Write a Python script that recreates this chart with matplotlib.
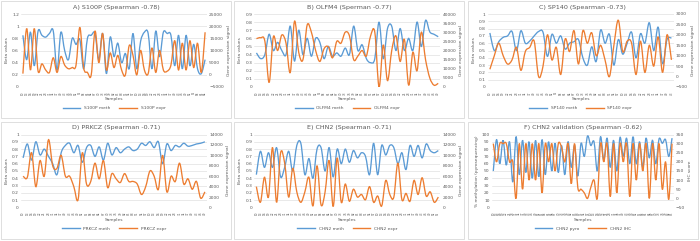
import numpy as np
import matplotlib
matplotlib.use('Agg')
import matplotlib.pyplot as plt
from matplotlib.path import Path
from matplotlib.patches import PathPatch, Rectangle
from matplotlib.lines import Line2D

BLUE = '#5B9BD5'
ORANGE = '#ED7D31'

# ---- data ----
titles = ['A) S100P (Spearman -0.78)', 'B) OLFM4 (Sperman -0.77)', 'C) SP140 (Spearman -0.73)',
          'D) PRKCZ (Spearman -0.71)', 'E) CHN2 (Spearman -0.71)', 'F) CHN2 validation (Spearman -0.62)']
legend_names = [('S100P meth', 'S100P expr'), ('OLFM4 meth', 'OLFM4 expr'), ('SP140 meth', 'SP140 expr'),
                ('PRKCZ meth', 'PRKCZ expr'), ('CHN2 meth', 'CHN2 expr'), ('CHN2 pyro', 'CHN2 IHC')]

s100p_meth = [0.85, 0.45, 0.9, 0.35, 0.92, 0.85, 0.82, 0.88, 0.92, 0.28, 0.9, 0.6, 0.45, 0.8, 0.7, 0.78,
              0.3, 0.8, 0.85, 0.88, 0.45, 0.88, 0.22, 0.82, 0.5, 0.72, 0.4, 0.55, 0.3, 0.88, 0.3, 0.75,
              0.9, 0.88, 0.3, 0.92, 0.5, 0.9, 0.88, 0.85, 0.35, 0.85, 0.3, 0.85, 0.35, 0.7, 0.3, 0.22, 0.45]
s100p_expr = [500, 19000, 2000, 19000, 1500, 4500, 2000, 1000, 7000, 1000, 7500, 4000, 2500, 3000, 4000,
              19500, 3000, 1000, 0, 18000, 5000, 17000, 2000, 9000, 3000, 8000, 2000, 0, 12000, 8000, 0,
              10000, 2000, 500, 11000, 1000, 10000, 2000, 1500, 4000, 14000, 2000, 13000, 2000, 14000,
              3000, 13000, 1000, 17500]

olfm4_meth = [0.42, 0.35, 0.4, 0.65, 0.45, 0.55, 0.45, 0.4, 0.75, 0.32, 0.7, 0.4, 0.6, 0.38, 0.6, 0.55,
              0.35, 0.5, 0.38, 0.42, 0.38, 0.48, 0.4, 0.75, 0.45, 0.52, 0.35, 0.3, 0.35, 0.8, 0.35, 0.72,
              0.75, 0.45, 0.72, 0.45, 0.6, 0.45, 0.8, 0.5, 0.82, 0.68, 0.65, 0.62]
olfm4_expr = [26500, 27000, 25000, 2500, 27500, 20000, 28500, 24000, 8000, 36000, 19000, 15000, 34000,
              30000, 20000, 14000, 21000, 22000, 16000, 25000, 24000, 30000, 28000, 15000, 17000, 20000,
              17000, 28000, 30000, 0, 23000, 3500, 20000, 28000, 14000, 26000, 1000, 19000, 9000, 30000,
              15000, 5000, 1000, 2000]

sp140_meth = [0.74, 0.5, 0.62, 0.68, 0.7, 0.76, 0.5, 0.77, 0.6, 0.63, 0.7, 0.76, 0.75, 0.42, 0.72, 0.6,
              0.7, 0.52, 0.6, 0.62, 0.65, 0.4, 0.3, 0.55, 0.35, 0.78, 0.6, 0.72, 0.3, 0.65, 0.45, 0.6,
              0.75, 0.4, 0.73, 0.6, 0.88, 0.5, 0.82, 0.32, 0.65, 0.67]
sp140_expr = [350, 1000, 1600, 1000, 600, 800, 1400, 300, 1200, 1400, 1700, 0, 500, 2000, 800, 1400,
              100, 1800, 1200, 2200, 600, 2200, 1600, 2100, 1000, 1500, 800, 0, 1500, 2700, 1200,
              1700, 1600, 100, 1700, 200, 1500, 500, 1900, 200, 2000, 800]

prkcz_meth = [0.68, 0.87, 0.65, 0.9, 0.72, 0.8, 0.7, 0.6, 0.45, 0.75, 0.85, 0.88, 0.75, 0.85, 0.62, 0.82,
              0.85, 0.7, 0.83, 0.65, 0.88, 0.72, 0.82, 0.75, 0.8, 0.83, 0.78, 0.8, 0.88, 0.85, 0.9, 0.82,
              0.9, 0.6, 0.87, 0.78, 0.85, 0.83, 0.88, 0.84, 0.85, 0.87, 0.88, 0.9]
prkcz_expr = [6000, 5800, 10500, 4000, 9000, 6000, 13000, 8000, 7500, 10000, 6000, 6000, 4000, 1500,
              10500, 4500, 5000, 8500, 5500, 9000, 3800, 6500, 5500, 4800, 6500, 5000, 5000, 4500, 2500,
              4000, 7000, 6000, 3500, 10000, 3000, 6000, 5000, 8500, 4500, 5500, 3500, 5000, 1800, 3000]

chn2_meth = [0.45, 0.77, 0.55, 0.75, 0.55, 0.82, 0.42, 0.55, 0.77, 0.5, 0.85, 0.88, 0.45, 0.67, 0.4,
             0.8, 0.82, 0.5, 0.82, 0.42, 0.8, 0.6, 0.8, 0.62, 0.78, 0.68, 0.75, 0.7, 0.45, 0.88, 0.45,
             0.85, 0.72, 0.85, 0.82, 0.6, 0.75, 0.52, 0.85, 0.7, 0.85, 0.68, 0.87, 0.78, 0.75, 0.78]
chn2_expr = [4000, 1000, 5800, 2000, 11500, 1000, 10500, 8500, 2000, 7500, 3000, 1000, 3000, 5800, 300,
             8000, 500, 3000, 9000, 200, 9500, 1000, 4500, 1200, 3500, 2000, 2500, 1500, 4000, 1000,
             2200, 300, 5200, 2500, 2000, 8500, 1500, 2700, 1200, 5200, 2500, 5700, 2200, 3000, 1000, 2000]

chn2_pyro = [50, 93, 60, 92, 58, 90, 35, 97, 45, 92, 48, 90, 40, 92, 42, 93, 45, 90, 50, 88, 48, 85, 45,
             90, 55, 85, 43, 88, 70, 98, 85, 90, 50, 97, 65, 95, 55, 92, 50, 96, 70, 95, 60, 97, 60, 90,
             55, 95, 68, 92, 60, 94, 88, 93, 70, 95]
chn2_ihc = [300, 200, 300, 300, 300, 200, 200, 0, 300, 50, 300, 100, 300, 100, 300, 30, 300, 200, 300,
            150, 300, 280, 200, 300, 80, 300, 60, 50, 30, 0, 60, 100, 0, 300, 200, 300, 10, 300, 30, 300,
            200, 300, 10, 300, 100, 300, 150, 300, 0, 300, 100, 300, 50, 200, -5, 300]

left_series = [s100p_meth, olfm4_meth, sp140_meth, prkcz_meth, chn2_meth, chn2_pyro]
right_series = [s100p_expr, olfm4_expr, sp140_expr, prkcz_expr, chn2_expr, chn2_ihc]
left_lims = [(0, 1.2, 0.2), (0, 0.9, 0.1), (0, 1.0, 0.1), (0, 1.0, 0.1), (0, 1.0, 0.1), (0, 100, 10)]
right_lims = [(-5000, 25000, 5000), (0, 40000, 5000), (-500, 3000, 500), (0, 14000, 2000),
              (0, 14000, 2000), (-50, 350, 50)]
left_labels = ['Beta values'] * 5 + ['% methylation (pyrosequencing)']
right_labels = ['Gene expression signal'] * 5 + ['IHC score']


def smooth_path(y):
    # Excel-style smoothed line: cubic Bezier through every point
    x = np.arange(len(y), dtype=float)
    p = np.column_stack([x, np.asarray(y, dtype=float)])
    verts = [p[0]]
    codes = [Path.MOVETO]
    n = len(p)
    for i in range(n - 1):
        p0 = p[max(i - 1, 0)]
        p3 = p[min(i + 2, n - 1)]
        c1 = p[i] + (p[i + 1] - p0) / 6.0
        c2 = p[i + 1] - (p3 - p[i]) / 6.0
        verts += [c1, c2, p[i + 1]]
        codes += [Path.CURVE4] * 3
    return Path(verts, codes)


fig = plt.figure(figsize=(7.0, 2.41), dpi=100)
W, H = 700.0, 241.0
fs = 3.2

for k in range(6):
    r, c = divmod(k, 3)
    px0 = c * W / 3
    py0 = r * 120.5
    # panel frame
    fig.patches.append(Rectangle(((px0 + 1) / W, 1 - (py0 + 118) / H), 230 / W, 117 / H,
                                 transform=fig.transFigure, fill=False, ec='#D9D9D9', lw=0.6))
    left = px0 + (25 if k == 5 else 21)
    right = px0 + 207
    top = py0 + 14
    bot = py0 + 87
    ax = fig.add_axes([left / W, 1 - bot / H, (right - left) / W, (bot - top) / H])
    ax2 = ax.twinx()

    yl = left_series[k]
    yr = right_series[k]
    n = len(yl)
    lo, hi, st = left_lims[k]
    ax.set_ylim(lo, hi)
    ax.set_yticks(np.arange(lo, hi + st / 2, st))
    lo2, hi2, st2 = right_lims[k]
    ax2.set_ylim(lo2, hi2)
    ax2.set_yticks(np.arange(lo2, hi2 + st2 / 2, st2))
    ax.set_xlim(-0.5, n - 0.5)

    ax.yaxis.grid(True, color='#D9D9D9', lw=0.4)
    ax.set_axisbelow(True)
    for a in (ax, ax2):
        for s in a.spines.values():
            s.set_visible(False)
        a.tick_params(length=0, labelsize=fs, colors='#595959', pad=1.5)
    ax.tick_params(axis='x', pad=3)
    ax.yaxis.set_major_formatter(plt.FuncFormatter(lambda v, p: ('%g' % round(v, 2))))

    sample_labels = [str(10 + (3 * i) % 90) for i in range(n)]
    ax.set_xticks(range(n))
    ax.set_xticklabels(sample_labels, rotation=90, fontsize=2.0)

    ax.add_patch(PathPatch(smooth_path(yl), fill=False, ec=BLUE, lw=0.95, transform=ax.transData))
    ax2.add_patch(PathPatch(smooth_path(yr), fill=False, ec=ORANGE, lw=0.95, transform=ax2.transData))

    ax.set_ylabel(left_labels[k], fontsize=fs, color='#595959', labelpad=2)
    ax2.set_ylabel(right_labels[k], fontsize=fs, color='#595959', labelpad=2)

    cx = (left + right) / 2 / W
    fig.text((px0 + 116) / W, 1 - (py0 + 7) / H, titles[k], ha='center', va='center',
             fontsize=4.6, color='#595959')
    fig.text(cx, 1 - (py0 + 99) / H, 'Samples', ha='center', va='center', fontsize=fs, color='#595959')
    handles = [Line2D([], [], color=BLUE, lw=1.0), Line2D([], [], color=ORANGE, lw=1.0)]
    ax.legend(handles, legend_names[k], loc='center', bbox_to_anchor=(cx, 1 - (py0 + 108) / H),
              bbox_transform=fig.transFigure, ncol=2, frameon=False, fontsize=fs,
              handlelength=4, columnspacing=2, labelcolor='#595959')

fig.savefig('out.png', dpi=100, facecolor='white')
